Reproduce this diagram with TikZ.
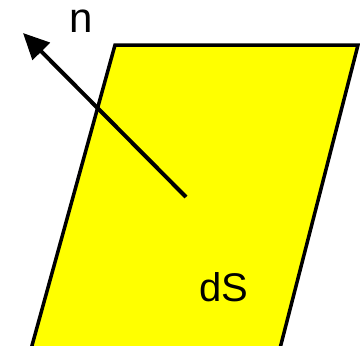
\documentclass[tikz,border=0pt]{standalone}
\usepackage{fontspec}
\setmainfont{Liberation Sans}
\usetikzlibrary{arrows.meta}
\definecolor{jaune}{RGB}{255,255,0}

\begin{document}
\begin{tikzpicture}[x=1pt,y=-1pt]
        \useasboundingbox (0,0) rectangle (360,346);
        \clip (0,0) rectangle (360,346);

        % Surface
        \draw[line width=3.5pt, fill=jaune] (115,45) -- (358,45) -- (277,360) -- (28,360) -- cycle;

        % Normale
        \coordinate (base) at (186,197);
        \coordinate (tip) at (23,33);
        \draw[line width=4pt, -{Triangle[length=26pt,width=24pt]}] (base) -- (tip);

        % Labels
        \node[anchor=base, inner sep=0pt, font=\fontsize{42}{42}\selectfont] (n) at (81,32) {n};
        \node[anchor=base west, inner sep=0pt, font=\fontsize{40}{40}\selectfont] (dS) at (199,301) {dS};
\end{tikzpicture}
\end{document}
